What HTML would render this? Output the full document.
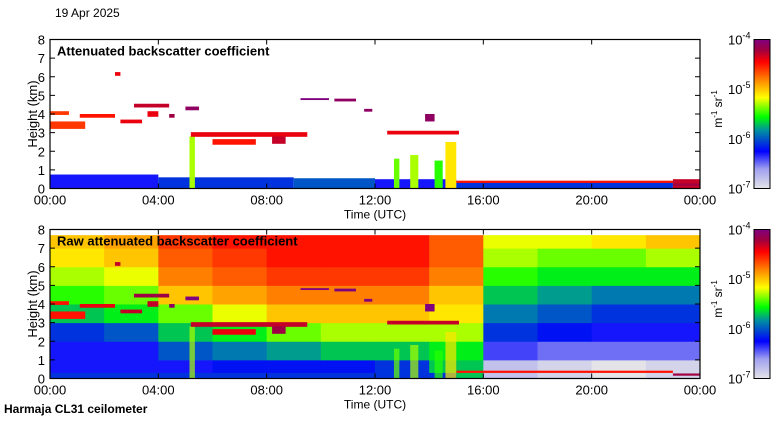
<!DOCTYPE html>
<html><head><meta charset="utf-8"><style>
body{margin:0;background:#fff;width:780px;height:420px;overflow:hidden;font-family:"Liberation Sans",sans-serif}
svg text{font-family:"Liberation Sans",sans-serif}
</style></head><body>
<svg id="s" width="780" height="420" xmlns="http://www.w3.org/2000/svg">
<defs><linearGradient id="cb" x1="0" y1="1" x2="0" y2="0">
<stop offset="0" stop-color="#e4e4e8"/><stop offset="0.13" stop-color="#a0a0f0"/><stop offset="0.25" stop-color="#0000ff"/><stop offset="0.39" stop-color="#0090a0"/><stop offset="0.48" stop-color="#00ff00"/><stop offset="0.61" stop-color="#ffff00"/><stop offset="0.71" stop-color="#ff9900"/><stop offset="0.85" stop-color="#ff0000"/><stop offset="0.93" stop-color="#a00040"/><stop offset="1" stop-color="#800080"/>
</linearGradient></defs>
<g id="top"></g>
<g id="bot"></g>
<text x="55" y="17" font-size="12">19 Apr 2025</text>
<text x="4" y="413" font-size="12" font-weight="bold">Harmaja CL31 ceilometer</text>
</svg>
<script>
// ---- data ----
const hourTicks = ["00:00","04:00","08:00","12:00","16:00","20:00","00:00"];
const kmTicks = [0,1,2,3,4,5,6,7,8];
// cloud segments: start hour, end hour, height km, thickness km, log10 backscatter
const segStart = [0,1.1,0,2.6,3.1,3.6,4.4,5.0,2.4,5.2,6.0,8.2,9.25,10.5,11.6,12.45,13.85];
const segEnd   = [1.3,2.4,0.7,3.4,4.4,4.0,4.6,5.5,2.6,9.5,7.6,8.7,10.3,11.3,11.9,15.1,14.2];
const segH     = [3.4,3.9,4.05,3.6,4.45,4.0,3.9,4.3,6.15,2.9,2.5,2.6,4.8,4.75,4.2,3.0,3.8];
const segThk   = [0.4,0.2,0.2,0.2,0.2,0.3,0.2,0.2,0.2,0.25,0.3,0.4,0.1,0.15,0.15,0.2,0.4];
const segVal   = [-4.6,-4.5,-4.6,-4.4,-4.3,-4.4,-4.2,-4.1,-4.4,-4.4,-4.5,-4.3,-4.0,-4.1,-4.1,-4.4,-4.1];
// precipitation streaks
const strStart = [5.15,12.7,13.3,14.2,14.6];
const strEnd   = [5.35,12.9,13.6,14.5,15.0];
const strTop   = [2.8,1.6,1.8,1.5,2.5];
const strVal   = [-5.3,-5.4,-5.3,-5.5,-5.1];
// boundary layer: start hour, end hour, top km, log value
const blStart = [0,4,9,12,15,23];
const blEnd   = [4,9,12,15,23,24];
const blTop   = [0.75,0.6,0.55,0.5,0.4,0.5];
const blVal   = [-6.3,-6.1,-6.0,-6.3,-6.1,-4.3];
// surface red line after 15h
const lineStart=[15,23]; const lineEnd=[23,24]; const lineH=[0.3,0.15]; const lineVal=[-4.5,-4.2];
// raw backscatter grid: rows 0-1km ... 7-7.7km, columns 2h bins
const rawRows = [
 [-6.3,-6.3,-6.3,-6.2,-6.2,-6.2,-6.1,-5.7,-6.8,-6.9,-7.0,-6.9],
 [-6.3,-6.3,-6.0,-5.9,-5.8,-5.7,-5.7,-5.6,-6.4,-6.5,-6.5,-6.5],
 [-6.1,-6.0,-5.7,-5.6,-5.4,-5.3,-5.3,-5.3,-6.1,-6.2,-6.3,-6.3],
 [-5.7,-5.6,-5.4,-5.2,-5.0,-5.0,-5.0,-5.1,-5.9,-6.0,-6.1,-6.1],
 [-5.5,-5.4,-5.0,-4.9,-4.8,-4.8,-4.8,-5.0,-5.7,-5.8,-5.9,-5.9],
 [-5.3,-5.2,-4.8,-4.7,-4.6,-4.6,-4.6,-4.8,-5.5,-5.6,-5.6,-5.6],
 [-5.1,-5.0,-4.7,-4.6,-4.5,-4.5,-4.5,-4.7,-5.3,-5.4,-5.4,-5.3],
 [-5.0,-4.9,-4.6,-4.5,-4.5,-4.5,-4.5,-4.7,-5.2,-5.2,-5.1,-5.0]
];
const rawRowTop = [1,2,3,4,5,6,7,7.7];
const cbLabels = ["-4","-5","-6","-7"];

// ---- rendering ----
const NS="http://www.w3.org/2000/svg";
const stops=[[0,[228,228,232]],[0.13,[160,160,240]],[0.25,[0,0,255]],[0.39,[0,144,160]],[0.48,[0,255,0]],[0.61,[255,255,0]],[0.71,[255,153,0]],[0.85,[255,0,0]],[0.93,[160,0,64]],[1,[128,0,128]]];
function cmap(v){let t=Math.max(0,Math.min(1,(v+7)/3));for(let i=1;i<stops.length;i++){if(t<=stops[i][0]){const a=stops[i-1],b=stops[i],f=(t-a[0])/(b[0]-a[0]);const c=a[1].map((x,k)=>Math.round(x+(b[1][k]-x)*f));return `rgb(${c})`;}}return "rgb(128,0,128)";}
function mk(tag,attrs,parent){const e=document.createElementNS(NS,tag);for(const k in attrs)e.setAttribute(k,attrs[k]);parent.appendChild(e);return e;}
const X0=50,X1=700;
function xs(h){return X0+(X1-X0)*h/24;}
function panel(g,Y0,Y1,title,raw){
  const ys=k=>Y1-(Y1-Y0)*k/8;
  const cl=mk('g',{},g);
  
  
  if(raw){
    rawRows.forEach((row,ri)=>{row.forEach((v,ci)=>{
      const bot=ri==0?0:rawRowTop[ri-1];
      const r=mk('rect',{x:xs(ci*2),y:ys(rawRowTop[ri]),width:xs(2)-xs(0)+0.5,height:ys(bot)-ys(rawRowTop[ri])+0.5,fill:cmap(v)},cl);
      
      
    });});
    blStart.forEach((s,i)=>{if(i<4){const r=mk('rect',{x:xs(s),y:ys(0.3),width:xs(blEnd[i])-xs(s),height:ys(0)-ys(0.3),fill:cmap(-6.1)},cl);
      
      }});
  } else {
    blStart.forEach((s,i)=>{const r=mk('rect',{x:xs(s),y:ys(blTop[i]),width:xs(blEnd[i])-xs(s),height:ys(0)-ys(blTop[i]),fill:cmap(blVal[i])},cl);
      
      });
  }
  lineStart.forEach((s,i)=>{const r=mk('rect',{x:xs(s),y:ys(lineH[i]+0.12),width:xs(lineEnd[i])-xs(s),height:ys(lineH[i])-ys(lineH[i]+0.12),fill:cmap(lineVal[i])},cl);
    
    });
  strStart.forEach((s,i)=>{const r=mk('rect',{x:xs(s),y:ys(strTop[i]),width:xs(strEnd[i])-xs(s),height:ys(0)-ys(strTop[i]),fill:cmap(strVal[i]),opacity:raw?0.7:1},cl);
    
    });
  segStart.forEach((s,i)=>{const h=segH[i],t=segThk[i];const r=mk('rect',{x:xs(s),y:ys(h+t/2),width:xs(segEnd[i])-xs(s),height:ys(h-t/2)-ys(h+t/2),fill:cmap(raw?segVal[i]+0.1:segVal[i])},cl);
    
    });
  if(raw){const r=mk('rect',{x:X0,y:Y0,width:X1-X0,height:ys(7.7)-Y0,fill:'#fff'},cl);
    
    }
  const fr=mk('rect',{x:X0,y:Y0,width:X1-X0,height:Y1-Y0,fill:'none',stroke:'#000','stroke-width':1.2},g);
  
  
  kmTicks.forEach(k=>{const y=ys(k);
    mk('line',{x1:X0,x2:X0+5,y1:y,y2:y,stroke:'#000'},g);mk('line',{x1:X1-5,x2:X1,y1:y,y2:y,stroke:'#000'},g);
    const t=mk('text',{x:X0-5,y:y+5,'font-size':13,'text-anchor':'end'},g);t.textContent=k;
    
    });
  hourTicks.forEach((l,i)=>{const x=xs(i*4);
    mk('line',{x1:x,x2:x,y1:Y1,y2:Y1-5,stroke:'#000'},g);mk('line',{x1:x,x2:x,y1:Y0,y2:Y0+5,stroke:'#000'},g);
    const t=mk('text',{x:x,y:Y1+16,'font-size':13,'text-anchor':'middle'},g);t.textContent=l;
    
    });
  const xt=mk('text',{x:375,y:Y1+30,'font-size':12,'text-anchor':'middle'},g);xt.textContent='Time (UTC)';
  
  
  const yt=mk('text',{x:0,y:0,'font-size':13,'text-anchor':'middle',transform:`translate(37,${(Y0+Y1)/2}) rotate(-90)`},g);yt.textContent='Height (km)';
  
  
  const tt=mk('text',{x:57,y:Y0+16,'font-size':13,'font-weight':'bold'},g);tt.textContent=title;
  
  
  const cb=mk('rect',{x:754,y:Y0,width:16,height:Y1-Y0,fill:'url(#cb)',stroke:'#000'},g);
  
  
  cbLabels.forEach((l,i)=>{const y=Y0+(Y1-Y0)*i/3;
    const t=mk('text',{x:728,y:y+5,'font-size':13},g);t.innerHTML=`10<tspan dy="-6" font-size="9">${l}</tspan>`;
    
    });
  const u=mk('text',{x:0,y:0,'font-size':12,'text-anchor':'middle',transform:`translate(722,${(Y0+Y1)/2-5}) rotate(-90)`},g);
  u.innerHTML='m<tspan dy="-5" font-size="8">-1</tspan><tspan dy="5"> sr</tspan><tspan dy="-5" font-size="8">-1</tspan>';
  
  
}
panel(document.getElementById('top'),39.5,188.5,'Attenuated backscatter coefficient',false);
panel(document.getElementById('bot'),229.5,378.5,'Raw attenuated backscatter coefficient',true);
</script>
</body></html>
